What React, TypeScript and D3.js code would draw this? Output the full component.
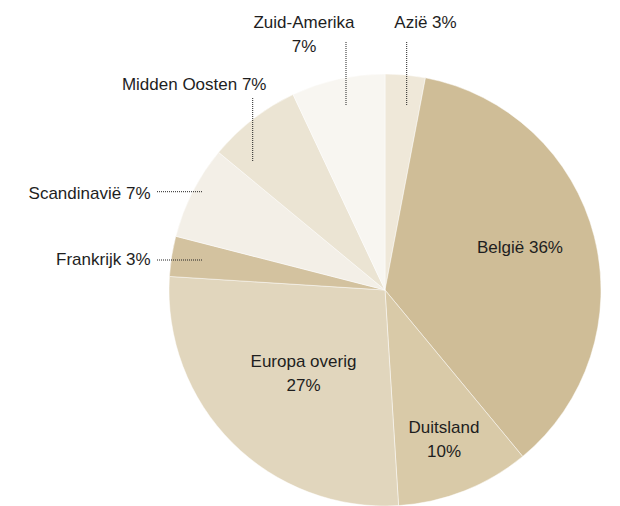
import React from 'react';
import * as d3 from 'd3';

const categories = ['Azië', 'België', 'Duitsland', 'Europa overig', 'Frankrijk', 'Scandinavië', 'Midden Oosten', 'Zuid-Amerika'];
const shares = [3, 36, 10, 27, 3, 7, 7, 7];
const sliceColors = ['#efe8d9', '#cfbd97', '#d9caa8', '#e1d6bd', '#d3c29f', '#f3efe7', '#ebe4d3', '#f8f6f1'];

// label layout, relative to pie centre (separate from data)
type LabelSpec = { lines: string[]; x: number; y: number; anchor: 'start' | 'middle' | 'end'; leader?: [number, number, number, number] };
const labelLayout: LabelSpec[] = [
  { lines: ['Azië 3%'], x: 40.5, y: -262, anchor: 'middle', leader: [21.7, -248, 21.7, -184] },
  { lines: ['België 36%'], x: 135, y: -37, anchor: 'middle' },
  { lines: ['Duitsland', '10%'], x: 59, y: 143, anchor: 'middle' },
  { lines: ['Europa overig', '27%'], x: -81.5, y: 77, anchor: 'middle' },
  { lines: ['Frankrijk 3%'], x: -234.5, y: -25, anchor: 'end', leader: [-228, -30, -183, -30] },
  { lines: ['Scandinavië 7%'], x: -234.5, y: -91, anchor: 'end', leader: [-228, -98.3, -183, -98.3] },
  { lines: ['Midden Oosten 7%'], x: -118.5, y: -200, anchor: 'end', leader: [-132.3, -192, -132.3, -128] },
  { lines: ['Zuid-Amerika', '7%'], x: -81, y: -262, anchor: 'middle', leader: [-39, -248, -39, -184] },
];

const W = 620;
const H = 506;
const cx = 385;
const cy = 290;
const R = 216;
const lineHeight = 24;

export default function App() {
  const pie = d3.pie<number>().sort(null).value((d) => d);
  const arcs = pie(shares);
  const arcGen = d3.arc<d3.PieArcDatum<number>>().innerRadius(0).outerRadius(R);

  return (
    <svg width={W} height={H} style={{ position: 'absolute', left: 0, top: 0, background: '#fff' }}
      fontFamily="'Liberation Sans', Arial, sans-serif">
      <g transform={`translate(${cx},${cy})`}>
        {arcs.map((a, i) => (
          <path key={categories[i]} d={arcGen(a) || ''} fill={sliceColors[i]} stroke="#ffffff" strokeOpacity={0.6} strokeWidth={0.8} />
        ))}
        {labelLayout.map((l, i) => (
          <g key={i}>
            {l.leader && (
              <line x1={l.leader[0]} y1={l.leader[1]} x2={l.leader[2]} y2={l.leader[3]}
                stroke="#222" strokeWidth={1} strokeDasharray="1,1" />
            )}
            <text x={l.x} y={l.y} textAnchor={l.anchor} fontSize={17} fill="#1e1e1e">
              {l.lines.map((t, j) => (
                <tspan key={j} x={l.x} dy={j === 0 ? 0 : lineHeight}>{t}</tspan>
              ))}
            </text>
          </g>
        ))}
      </g>
    </svg>
  );
}
